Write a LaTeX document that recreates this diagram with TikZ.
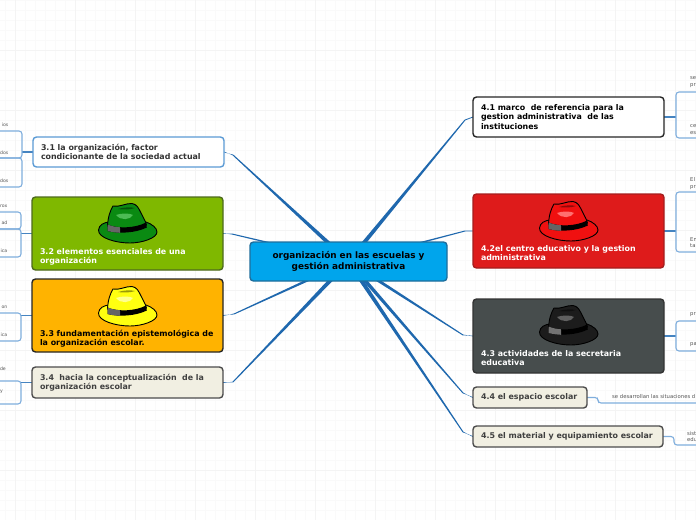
\documentclass[tikz,border=0pt]{standalone}
\usepackage{fontspec}
\setmainfont{DejaVu Sans}
\usetikzlibrary{calc,backgrounds}
\definecolor{gridminor}{HTML}{FAFAFA}
\definecolor{gridmajor}{HTML}{F4F4F4}
\definecolor{mainlink}{HTML}{1F68AE}
\definecolor{sublink}{HTML}{7FAEDD}
\definecolor{smalltxt}{HTML}{555555}
\definecolor{centrefill}{HTML}{00A5EC}
\definecolor{centredraw}{HTML}{1F6E9C}
\definecolor{blueedge}{HTML}{5B9BD5}
\definecolor{greenfill}{HTML}{7FB800}
\definecolor{greenedge}{HTML}{4E6B1E}
\definecolor{amberfill}{HTML}{FFB300}
\definecolor{beigefill}{HTML}{F1EFE2}
\definecolor{redfill}{HTML}{DE1B1B}
\definecolor{rededge}{HTML}{A51E1E}
\definecolor{slatefill}{HTML}{474D4D}
\definecolor{hatgreen}{HTML}{0A8A12}
\definecolor{hatgreenlt}{HTML}{4DBB55}
\definecolor{hatred}{HTML}{F01010}
\definecolor{hatredlt}{HTML}{FF7070}
\definecolor{hatyellow}{HTML}{FFFF10}
\definecolor{hatyellowlt}{HTML}{FFFF90}
\definecolor{hatblack}{HTML}{1C1C1C}
\definecolor{hatblacklt}{HTML}{606060}
\tikzset{
  x=1pt,y=-1pt,
  box/.style={draw,rounded corners=3.5pt,line width=1.4pt,anchor=north west,align=flush left,
    outer sep=0pt,inner xsep=8pt,inner ysep=0pt,text width=175pt,
    font=\fontsize{7.9}{9.2}\selectfont\bfseries},
  bracket/.style={draw=sublink,line width=1.1pt,rounded corners=3pt},
  stub/.style={draw=mainlink!60!sublink,line width=1.2pt},
  tiny/.style={font=\fontsize{5.3}{6.8}\selectfont,text=smalltxt,inner sep=0pt,align=left},
  tinyleft/.style={font=\fontsize{4.6}{6.8}\selectfont,text=smalltxt,inner sep=0pt,anchor=east},
}
% #1 start, #2 knee, #3 end, #4 half width at start
\newcommand\taperlink[4]{%
  \fill[mainlink] ($(#1)!#4pt!90:(#2)$) -- ($(#2)!0.5pt!-90:(#1)$)
     .. controls ($(#2)!0.4!(#3)$) .. ($(#3)+(0,-0.4)$) -- ($(#3)+(0,0.4)$)
     .. controls ($(#2)!0.4!(#3)$) .. ($(#2)!0.5pt!90:(#1)$) -- ($(#1)!#4pt!-90:(#2)$) -- cycle;}
% #1 origin, #2 main, #3 band, #4 light, #5 band patch, #6 outline
\newcommand\drawhat[6]{%
  \begin{scope}[shift={(#1)},line width=0.9pt,draw=#6,line join=round]
    \filldraw[fill=#2] (-29.5,7) .. controls (-29,2) and (-24,-1) .. (-18,-1)
       -- (18,-1) .. controls (24,1) and (29,5) .. (29,9)
       .. controls (29,15) and (14,20) .. (2,20)
       .. controls (-12,20) and (-30,15) .. (-29.5,7) -- cycle;
    \filldraw[fill=#2] (-20.5,3) .. controls (-20,-6) and (-18,-12) .. (-15,-17)
       .. controls (-9,-15.5) and (-2,-20) .. (4,-19.5)
       .. controls (9,-19) and (11,-14) .. (13,-10)
       .. controls (15.5,-5) and (17.5,-2) .. (18.5,2)
       .. controls (8,8) and (-10,9) .. (-20.5,3) -- cycle;
    \fill[#3] (-20.5,1.5) .. controls (-10,6) and (8,5) .. (18,-0.5)
       -- (18.8,4.5) .. controls (8,10) and (-10,11) .. (-20.5,8) -- cycle;
    \fill[#5] (-20.5,1.5) .. controls (-16,3.3) and (-13,3.8) .. (-8,4.3)
       -- (-8,9.8) .. controls (-13,9.5) and (-16,9) .. (-20.5,8) -- cycle;
    \fill[#4] (-12,-8) .. controls (-7,-10) and (2,-10) .. (5,-8)
       .. controls (2,-3) and (-7,-2) .. (-12,-8) -- cycle;
    \fill[#3,opacity=.4] (-10,-14) .. controls (-4,-16) and (3,-16) .. (7,-15)
       .. controls (3,-13.5) and (-5,-13) .. (-10,-14) -- cycle;
  \end{scope}}
\begin{document}
\begin{tikzpicture}
\useasboundingbox (0,0) rectangle (696,520);

% central node
\node[box,draw=centredraw,fill=centrefill,text=black,align=center,
  inner xsep=0pt,text width=197pt,minimum height=39pt,font=\fontsize{8.9}{10.8}\selectfont\bfseries]
  (c) at (250,242) {organización en las escuelas y\\gestión administrativa};

% left branches
\node[box,draw=blueedge,fill=white,text=black!80,minimum height=30pt] (a31) at (33,137)
  {3.1 la organización, factor\\condicionante de la sociedad actual};
\node[box,draw=greenedge,fill=greenfill,text=white,minimum height=73pt] (a32) at (32,197)
  {\rule{0pt}{46pt}\\3.2 elementos esenciales de una\\organización\rule[-5pt]{0pt}{5pt}};
\node[box,draw=black!85,fill=amberfill,text=black,minimum height=73pt] (a33) at (32,279)
  {\rule{0pt}{46pt}\\3.3 fundamentación epistemológica de\\la organización escolar.\rule[-5pt]{0pt}{5pt}};
\node[box,draw=black!70,fill=beigefill,text=black!75,minimum height=31pt] (a34) at (32,367)
  {3.4\ \ hacia la conceptualización\ \ de la\\organización escolar};

% right branches
\node[box,draw=black!85,fill=white,text=black,minimum height=40pt] (b41) at (473,97)
  {4.1 marco\ \ de referencia para la\\gestion administrativa\ \ de las\\instituciones};
\node[box,draw=rededge,fill=redfill,text=white,minimum height=74pt] (b42) at (473,194)
  {\rule{0pt}{46pt}\\4.2el centro educativo y la gestion\\administrativa\rule[-5pt]{0pt}{5pt}};
\node[box,draw=black!80,fill=slatefill,text=white,minimum height=74pt] (b43) at (473,299)
  {\rule{0pt}{46pt}\\4.3 actividades de la secretaria\\educativa\rule[-5pt]{0pt}{5pt}};
\node[box,draw=black!70,fill=beigefill,text=black!75,text width=98pt,minimum height=21pt] (b44) at (473,387)
  {4.4 el espacio escolar};
\node[box,draw=black!70,fill=beigefill,text=black!75,text width=174pt,minimum height=21pt] (b45) at (473,426)
  {4.5 el material y equipamiento escolar};

% hats
\drawhat{128,223}{hatgreen}{black}{hatgreenlt}{black!60}{black}
\drawhat{128,306}{hatyellow}{black}{hatyellowlt}{black!60}{black}
\drawhat{569,221}{hatred}{black}{hatredlt}{black!60}{black}
\drawhat{569,325}{hatblack}{black}{hatblacklt}{black!55}{black}

% main connectors
\coordinate (k31) at (233,155);
\coordinate (k32) at (232,234);
\coordinate (k33) at (234,314);
\coordinate (k34) at (233,382);
\coordinate (k41) at (465,120);
\coordinate (k42) at (465,231);
\coordinate (k43) at (463,335);
\coordinate (k44) at (463,393);
\coordinate (k45) at (463,432);
\coordinate (e31) at (a31.east);
\coordinate (e32) at (a32.east);
\coordinate (e33) at (a33.east);
\coordinate (e34) at (a34.east);
\coordinate (e41) at (b41.west);
\coordinate (e42) at (b42.west);
\coordinate (e43) at (b43.west);
\coordinate (e44) at (b44.west);
\coordinate (e45) at (b45.west);
\begin{scope}[on background layer]
\fill[white] (0,0) rectangle (696,520);
\foreach \gx in {5.5,15.5,...,695.5} \draw[gridminor,line width=0.8pt] (\gx,0) -- (\gx,520);
\foreach \gy in {0.5,10.5,...,520} \draw[gridminor,line width=0.8pt] (0,\gy) -- (696,\gy);
\foreach \gx in {15.5,75.5,...,695.5} \draw[gridmajor,line width=0.8pt] (\gx,0) -- (\gx,520);
\foreach \gy in {50.5,110.5,...,520} \draw[gridmajor,line width=0.8pt] (0,\gy) -- (696,\gy);
\taperlink{c.center}{k31}{e31}{2.2}
\taperlink{c.center}{k32}{e32}{1.1}
\taperlink{c.center}{k33}{e33}{1.6}
\taperlink{c.center}{k34}{e34}{2.2}
\taperlink{c.center}{k41}{e41}{2.2}
\taperlink{c.center}{k42}{e42}{1.1}
\taperlink{c.center}{k43}{e43}{1.8}
\taperlink{c.center}{k44}{e44}{2.0}
\taperlink{c.center}{k45}{e45}{2.2}

% left sub-brackets
\coordinate (l31) at (22,152);
\draw[stub] (a31.west) -- (l31);
\path[bracket] (0,131) -- (22,131) -- (22,158) -- (0,158);
\path[bracket] (0,158) -- (22,158) -- (22,187) -- (0,187);
\coordinate (l32) at (21,233.5);
\draw[stub] (a32.west) -- (l32);
\path[bracket] (0,212) -- (21,212) -- (21,229) -- (0,229);
\path[bracket] (0,229) -- (21,229) -- (21,257) -- (0,257);
\coordinate (l33) at (21,315.5);
\draw[stub] (a33.west) -- (l33);
\path[bracket] (0,313) -- (21,313) -- (21,341) -- (0,341);
\coordinate (l34) at (21,382.5);
\draw[stub] (a34.west) -- (l34);
\path[bracket] (0,381) -- (21,381) -- (21,404) -- (0,404);

% right sub-brackets
\coordinate (r41) at (676,117);
\draw[stub] (b41.east) -- (r41);
\path[bracket] (696,92) -- (676,92) -- (676,138) -- (696,138);
\coordinate (r42) at (676,231);
\draw[stub] (b42.east) -- (r42);
\path[bracket] (696,192) -- (676,192) -- (676,252) -- (696,252);
\coordinate (r43) at (676,336);
\draw[stub] (b43.east) -- (r43);
\path[bracket] (696,321) -- (676,321) -- (676,351) -- (696,351);
\coordinate (r44) at (696,403);
\path[bracket] (b44.east) -- (598,397.5) -- (598,403) -- (r44);
\coordinate (r45) at (696,445);
\path[bracket] (b45.east) -- (674,436.5) -- (674,445) -- (r45);
\end{scope}

% small texts
\node[tinyleft] (t31a) at (8.5,125) {ios};
\node[tinyleft] (t31b) at (8.5,153) {dos};
\node[tinyleft] (t31c) at (8.5,181) {dos};
\node[tinyleft] (t32a) at (7.5,206) {rox};
\node[tinyleft] (t32b) at (7.5,223) {ad};
\node[tinyleft] (t32c) at (7.5,251) {ica};
\node[tinyleft] (t33a) at (7.5,307) {on};
\node[tinyleft] (t33b) at (7.5,335) {ica};
\node[tinyleft] (t34a) at (6,369) {de};
\node[tinyleft] (t34b) at (3,392) {y};
\node[tiny,anchor=west] (t41a) at (690,82) {se\\pr};
\node[tiny,anchor=west] (t41b) at (690,129.5) {ce\\es};
\node[tiny,anchor=west] (t42a) at (690,183.5) {El\\pr};
\node[tiny,anchor=west] (t42b) at (690,242.5) {En\\ta};
\node[tiny,anchor=west] (t43a) at (690,315) {pr};
\node[tiny,anchor=west] (t43b) at (690,345) {pa};
\node[tiny,anchor=west] (t44) at (612,397) {se desarrollan las situaciones d};
\node[tiny,anchor=west] (t45) at (687,436.5) {sist\\edu};
\end{tikzpicture}
\end{document}
